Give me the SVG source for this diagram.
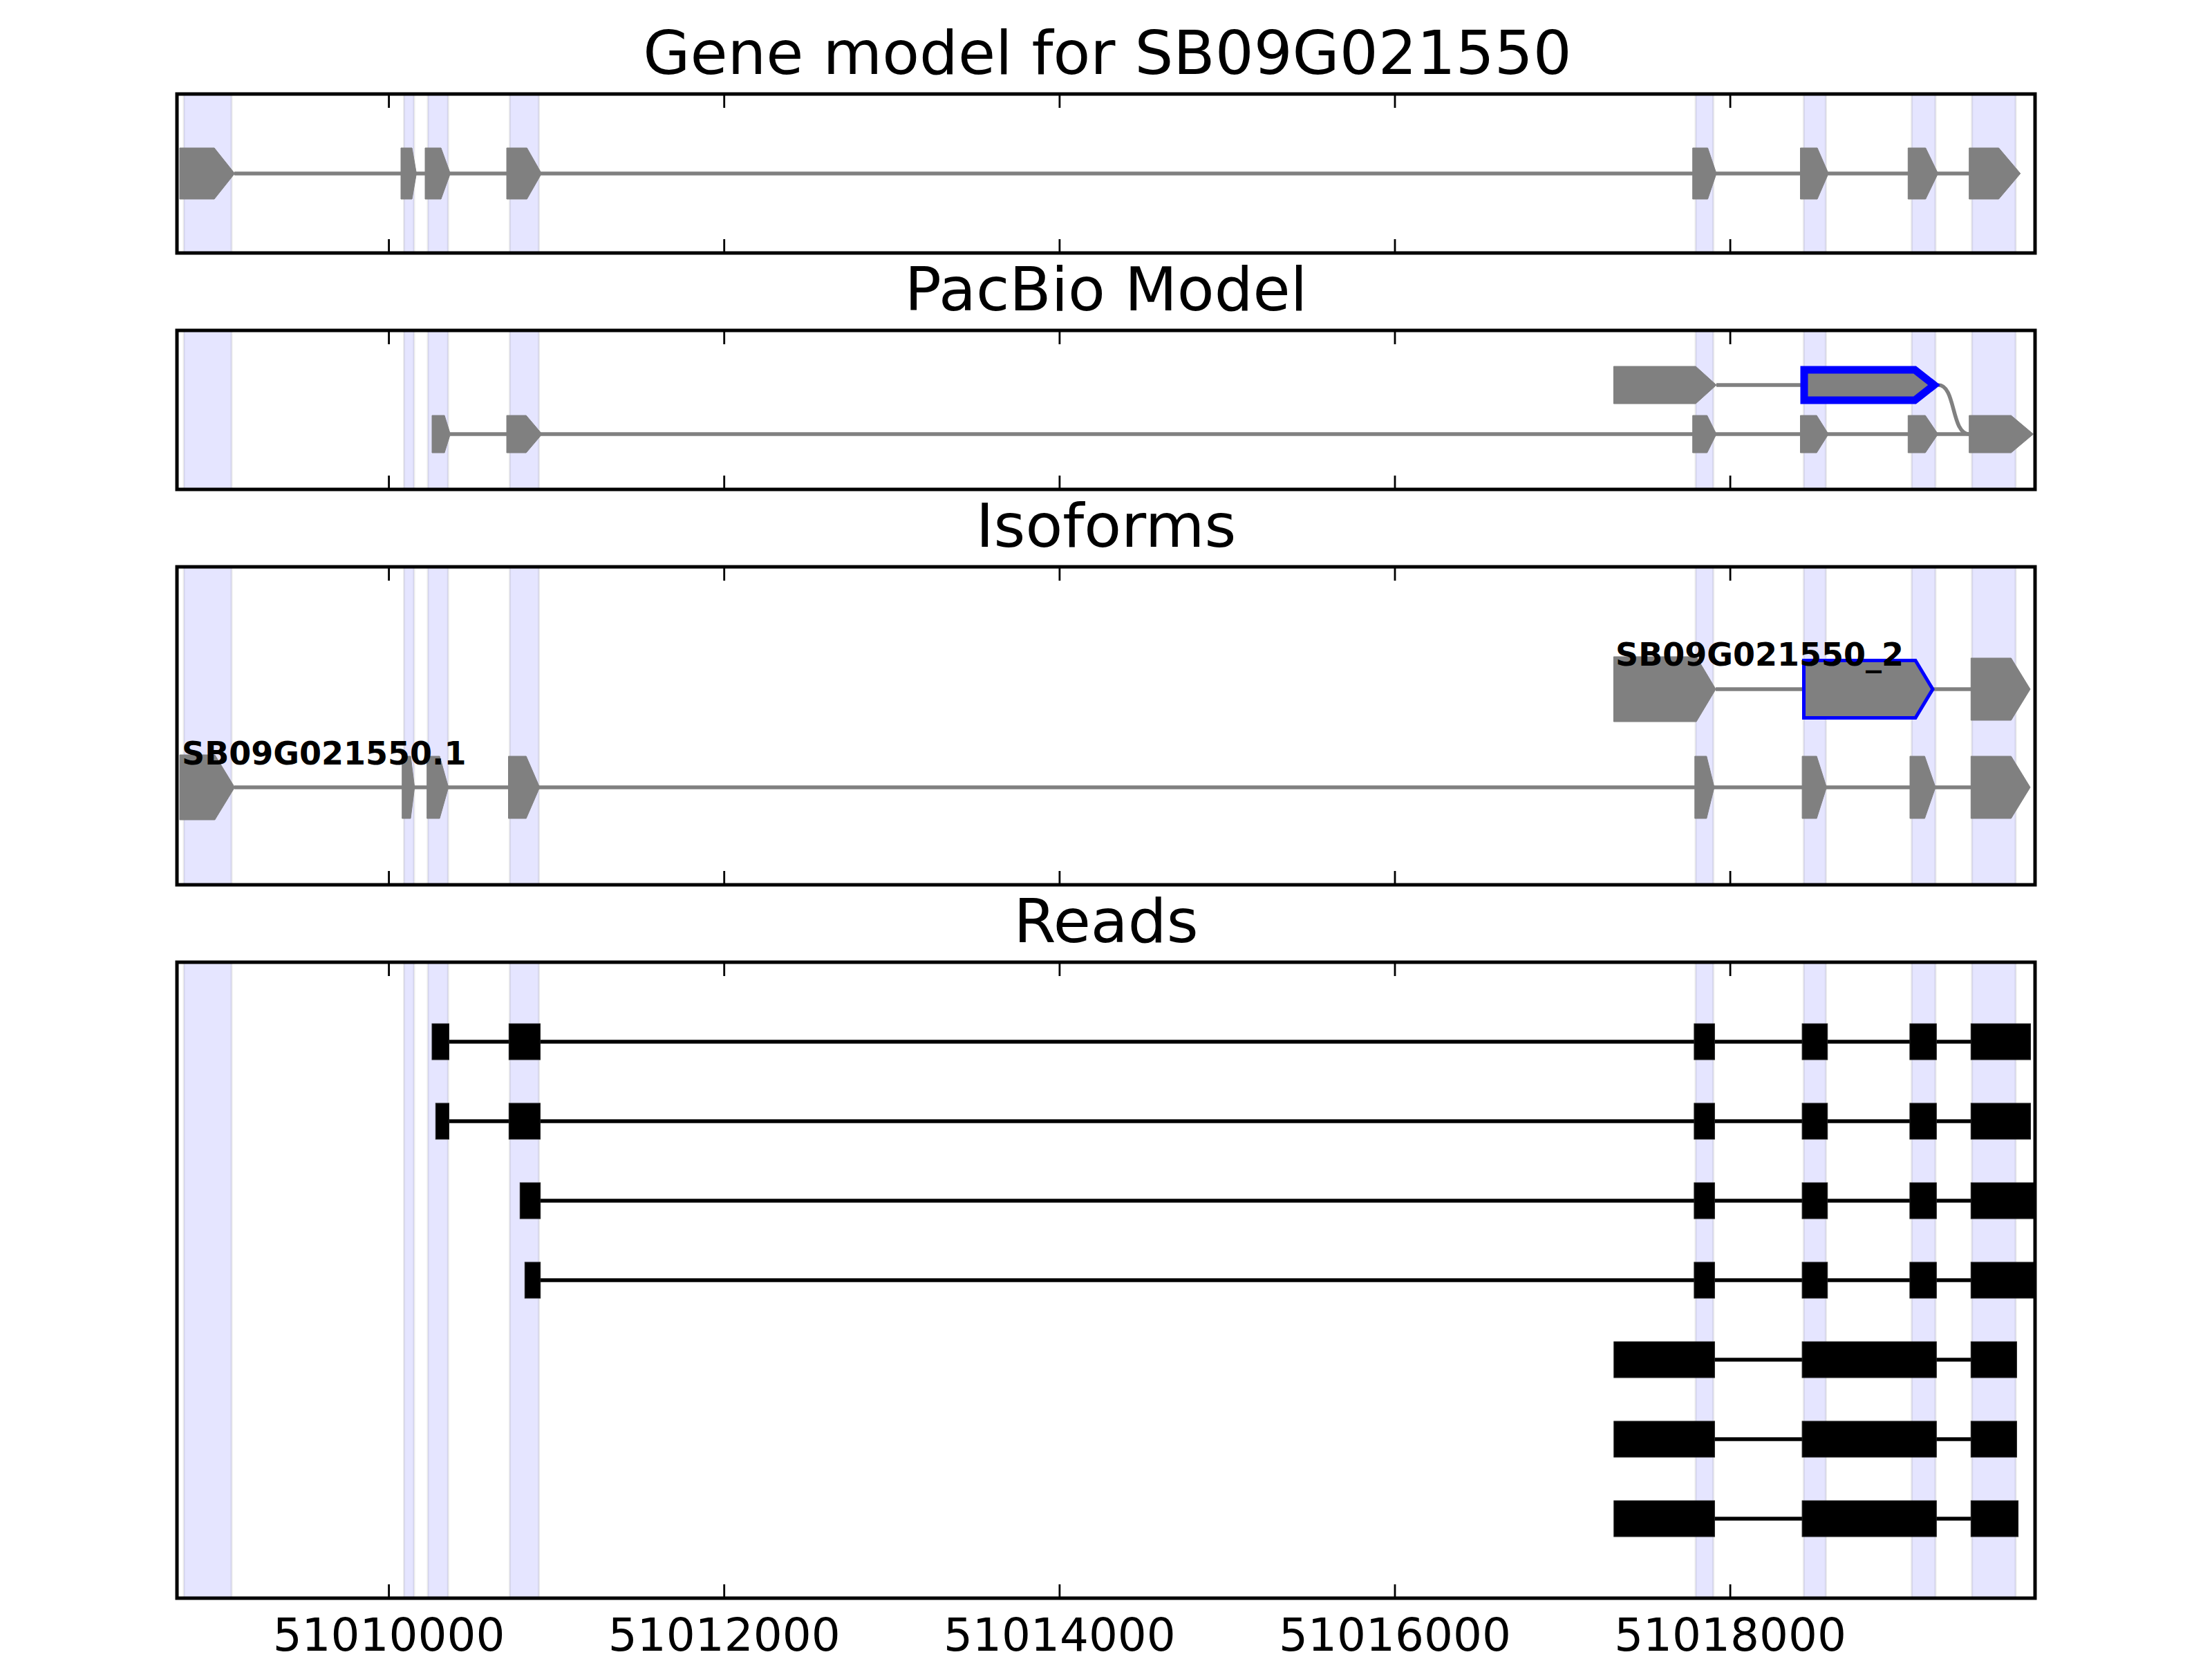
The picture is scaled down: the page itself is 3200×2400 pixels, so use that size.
<svg xmlns="http://www.w3.org/2000/svg" width="3200" height="2400" viewBox="0 0 3200 2400">
<style>
text{font-family:"DejaVu Sans","Liberation Sans",sans-serif;fill:#000}
.title{font-size:88px;text-anchor:middle}
.tick{font-size:66px;text-anchor:middle}
.lbl{font-size:46px;font-weight:bold}
.band{fill:#0000ff;fill-opacity:0.1;stroke:#000;stroke-opacity:0.08;stroke-width:3}
.frame{fill:none;stroke:#000;stroke-width:5}
.tk{stroke:#000;stroke-width:2.8}
.intron{stroke:#808080;stroke-width:5.5;fill:none}
.exon{fill:#808080;stroke:#808080;stroke-width:1}
.sel{fill:#808080;stroke:#0000ff;stroke-linejoin:miter}
.rline{stroke:#000;stroke-width:5.5}
.rex{fill:#000;stroke:#222;stroke-width:1}
</style>
<rect width="3200" height="2400" fill="#fff"/>

<!-- Titles -->
<text class="title" x="1602" y="107">Gene model for SB09G021550</text>
<text class="title" x="1600" y="449">PacBio Model</text>
<text class="title" x="1600" y="791">Isoforms</text>
<text class="title" x="1600" y="1363">Reads</text>

<!-- Bands -->
<g id="bands">
<g id="bands-p1">
<rect class="band" x="266" y="136" width="69" height="230"/>
<rect class="band" x="584.5" y="136" width="14.5" height="230"/>
<rect class="band" x="619" y="136" width="29.3" height="230"/>
<rect class="band" x="737.5" y="136" width="42" height="230"/>
<rect class="band" x="2453" y="136" width="25.6" height="230"/>
<rect class="band" x="2609.4" y="136" width="32" height="230"/>
<rect class="band" x="2765.6" y="136" width="34.4" height="230"/>
<rect class="band" x="2852.7" y="136" width="63.3" height="230"/>
</g>
<g id="bands-p2">
<rect class="band" x="266" y="478" width="69" height="230"/>
<rect class="band" x="584.5" y="478" width="14.5" height="230"/>
<rect class="band" x="619" y="478" width="29.3" height="230"/>
<rect class="band" x="737.5" y="478" width="42" height="230"/>
<rect class="band" x="2453" y="478" width="25.6" height="230"/>
<rect class="band" x="2609.4" y="478" width="32" height="230"/>
<rect class="band" x="2765.6" y="478" width="34.4" height="230"/>
<rect class="band" x="2852.7" y="478" width="63.3" height="230"/>
</g>
<g id="bands-p3">
<rect class="band" x="266" y="820" width="69" height="460"/>
<rect class="band" x="584.5" y="820" width="14.5" height="460"/>
<rect class="band" x="619" y="820" width="29.3" height="460"/>
<rect class="band" x="737.5" y="820" width="42" height="460"/>
<rect class="band" x="2453" y="820" width="25.6" height="460"/>
<rect class="band" x="2609.4" y="820" width="32" height="460"/>
<rect class="band" x="2765.6" y="820" width="34.4" height="460"/>
<rect class="band" x="2852.7" y="820" width="63.3" height="460"/>
</g>
<g id="bands-p4">
<rect class="band" x="266" y="1392" width="69" height="920"/>
<rect class="band" x="584.5" y="1392" width="14.5" height="920"/>
<rect class="band" x="619" y="1392" width="29.3" height="920"/>
<rect class="band" x="737.5" y="1392" width="42" height="920"/>
<rect class="band" x="2453" y="1392" width="25.6" height="920"/>
<rect class="band" x="2609.4" y="1392" width="32" height="920"/>
<rect class="band" x="2765.6" y="1392" width="34.4" height="920"/>
<rect class="band" x="2852.7" y="1392" width="63.3" height="920"/>
</g>
</g>

<!-- Connectors (introns / read lines) -->
<g id="connectors">
<line class="intron" x1="339" y1="251" x2="2849" y2="251"/>
<line class="intron" x1="651" y1="628" x2="2849" y2="628"/>
<line class="intron" x1="2483" y1="557" x2="2606" y2="557"/>
<path class="intron" d="M2804 557 C2830 557 2822 628 2849 628"/>
<line class="intron" x1="339" y1="1139" x2="2852" y2="1139"/>
<line class="intron" x1="2482" y1="997" x2="2609" y2="997"/>
<line class="intron" x1="2796" y1="997" x2="2852" y2="997"/>
<line class="rline" x1="630" y1="1507" x2="2860" y2="1507"/>
<line class="rline" x1="635" y1="1622" x2="2860" y2="1622"/>
<line class="rline" x1="760" y1="1737" x2="2860" y2="1737"/>
<line class="rline" x1="765" y1="1852" x2="2860" y2="1852"/>
<line class="rline" x1="2340" y1="1967" x2="2860" y2="1967"/>
<line class="rline" x1="2340" y1="2082" x2="2860" y2="2082"/>
<line class="rline" x1="2340" y1="2197" x2="2860" y2="2197"/>
</g>

<!-- Gene model -->
<g id="gene-model">
<polygon class="exon" points="260,214 310,214 339.5,251 310,288 260,288"/>
<polygon class="exon" points="580,214 596,214 602.4,251 596,288 580,288"/>
<polygon class="exon" points="615,214 638,214 651.4,251 638,288 615,288"/>
<polygon class="exon" points="733,214 762.3,214 783.4,251 762.3,288 733,288"/>
<polygon class="exon" points="2448.7,214 2470.5,214 2483,251 2470.5,288 2448.7,288"/>
<polygon class="exon" points="2604.5,214 2629,214 2645.1,251 2629,288 2604.5,288"/>
<polygon class="exon" points="2760.3,214 2785.7,214 2803.6,251 2785.7,288 2760.3,288"/>
<polygon class="exon" points="2848.7,214 2891.5,214 2922.8,251 2891.5,288 2848.7,288"/>
</g>

<!-- PacBio model -->
<g id="pacbio-model">
<g id="pacbio-lower">
<polygon class="exon" points="625,601 643,601 651.4,628 643,655 625,655"/>
<polygon class="exon" points="733,601 761.2,601 784.1,628 761.2,655 733,655"/>
<polygon class="exon" points="2448.7,601 2469.6,601 2483,628 2469.6,655 2448.7,655"/>
<polygon class="exon" points="2604.5,601 2628.1,601 2645.1,628 2628.1,655 2604.5,655"/>
<polygon class="exon" points="2760.3,601 2785.3,601 2803.6,628 2785.3,655 2760.3,655"/>
<polygon class="exon" points="2848.7,601 2909.4,601 2941.5,628 2909.4,655 2848.7,655"/>
</g>
<g id="pacbio-upper">
<polygon class="exon" points="2334.4,530 2453.1,530 2483,557 2453.1,584 2334.4,584"/>
<polygon class="sel" stroke-width="11" points="2610,535 2770,535 2798,557 2770,579 2610,579"/>
</g>
</g>

<!-- Isoforms -->
<g id="isoforms">
<g id="iso-1">
<polygon class="exon" points="260,1092 310.8,1092 339.5,1139 310.8,1186 260,1186"/>
<polygon class="exon" points="581.7,1094 594,1094 599.7,1139 594,1184 581.7,1184"/>
<polygon class="exon" points="617.7,1094 636,1094 648.7,1139 636,1184 617.7,1184"/>
<polygon class="exon" points="735.5,1094 761.2,1094 780.7,1139 761.2,1184 735.5,1184"/>
<polygon class="exon" points="2451.8,1094 2468.8,1094 2479.9,1139 2468.8,1184 2451.8,1184"/>
<polygon class="exon" points="2607.1,1094 2628.1,1094 2642.4,1139 2628.1,1184 2607.1,1184"/>
<polygon class="exon" points="2763,1094 2784.4,1094 2800,1139 2784.4,1184 2763,1184"/>
<polygon class="exon" points="2851.3,1094 2909.4,1094 2937,1139 2909.4,1184 2851.3,1184"/>
<text class="lbl" x="263" y="1106">SB09G021550.1</text>
</g>
<g id="iso-2">
<polygon class="exon" points="2334.4,950 2454,950 2482.1,997 2454,1044 2334.4,1044"/>
<polygon class="sel" stroke-width="5" points="2609.5,955.5 2771,955.5 2796,997 2771,1038.5 2609.5,1038.5"/>
<polygon class="exon" points="2851.3,952 2909.4,952 2937,997 2909.4,1042 2851.3,1042"/>
<text class="lbl" x="2337" y="963">SB09G021550_2</text>
</g>
</g>

<!-- Reads -->
<g id="reads">
<g id="read-1">
<rect class="rex" x="625" y="1481" width="24.5" height="52"/>
<rect class="rex" x="736.3" y="1481" width="45.2" height="52"/>
<rect class="rex" x="2450.9" y="1481" width="29.5" height="52"/>
<rect class="rex" x="2607.1" y="1481" width="36.6" height="52"/>
<rect class="rex" x="2762.9" y="1481" width="38.4" height="52"/>
<rect class="rex" x="2851.3" y="1481" width="86.2" height="52"/>
</g>
<g id="read-2">
<rect class="rex" x="630.3" y="1596" width="19.2" height="52"/>
<rect class="rex" x="736.3" y="1596" width="45.2" height="52"/>
<rect class="rex" x="2450.9" y="1596" width="29.5" height="52"/>
<rect class="rex" x="2607.1" y="1596" width="36.6" height="52"/>
<rect class="rex" x="2762.9" y="1596" width="38.4" height="52"/>
<rect class="rex" x="2851.3" y="1596" width="86.2" height="52"/>
</g>
<g id="read-3">
<rect class="rex" x="752.3" y="1711" width="29.4" height="52"/>
<rect class="rex" x="2450.9" y="1711" width="29.5" height="52"/>
<rect class="rex" x="2607.1" y="1711" width="36.6" height="52"/>
<rect class="rex" x="2762.9" y="1711" width="38.4" height="52"/>
<rect class="rex" x="2851.3" y="1711" width="92.7" height="52"/>
</g>
<g id="read-4">
<rect class="rex" x="759.3" y="1826" width="22.4" height="52"/>
<rect class="rex" x="2450.9" y="1826" width="29.5" height="52"/>
<rect class="rex" x="2607.1" y="1826" width="36.6" height="52"/>
<rect class="rex" x="2762.9" y="1826" width="38.4" height="52"/>
<rect class="rex" x="2851.3" y="1826" width="92.7" height="52"/>
</g>
<g id="read-5">
<rect class="rex" x="2334.8" y="1941" width="145.6" height="52"/>
<rect class="rex" x="2607.1" y="1941" width="194.2" height="52"/>
<rect class="rex" x="2851.3" y="1941" width="66.1" height="52"/>
</g>
<g id="read-6">
<rect class="rex" x="2334.8" y="2056" width="145.6" height="52"/>
<rect class="rex" x="2607.1" y="2056" width="194.2" height="52"/>
<rect class="rex" x="2851.3" y="2056" width="66.1" height="52"/>
</g>
<g id="read-7">
<rect class="rex" x="2334.8" y="2171" width="145.6" height="52"/>
<rect class="rex" x="2607.1" y="2171" width="194.2" height="52"/>
<rect class="rex" x="2851.3" y="2171" width="68.3" height="52"/>
</g>
</g>

<!-- Axes frames and ticks -->
<g id="axes">
<rect class="frame" x="256" y="136" width="2688" height="230"/>
<rect class="frame" x="256" y="478" width="2688" height="230"/>
<rect class="frame" x="256" y="820" width="2688" height="460"/>
<rect class="frame" x="256" y="1392" width="2688" height="920"/>
<path class="tk" d="M562.6 136v20M1047.7 136v20M1532.9 136v20M2018 136v20M2503.1 136v20M562.6 366v-20M1047.7 366v-20M1532.9 366v-20M2018 366v-20M2503.1 366v-20"/>
<path class="tk" d="M562.6 478v20M1047.7 478v20M1532.9 478v20M2018 478v20M2503.1 478v20M562.6 708v-20M1047.7 708v-20M1532.9 708v-20M2018 708v-20M2503.1 708v-20"/>
<path class="tk" d="M562.6 820v20M1047.7 820v20M1532.9 820v20M2018 820v20M2503.1 820v20M562.6 1280v-20M1047.7 1280v-20M1532.9 1280v-20M2018 1280v-20M2503.1 1280v-20"/>
<path class="tk" d="M562.6 1392v20M1047.7 1392v20M1532.9 1392v20M2018 1392v20M2503.1 1392v20M562.6 2312v-20M1047.7 2312v-20M1532.9 2312v-20M2018 2312v-20M2503.1 2312v-20"/>
<text class="tick" x="562.6" y="2388">51010000</text>
<text class="tick" x="1047.7" y="2388">51012000</text>
<text class="tick" x="1532.9" y="2388">51014000</text>
<text class="tick" x="2018" y="2388">51016000</text>
<text class="tick" x="2503.1" y="2388">51018000</text>
</g>
</svg>
